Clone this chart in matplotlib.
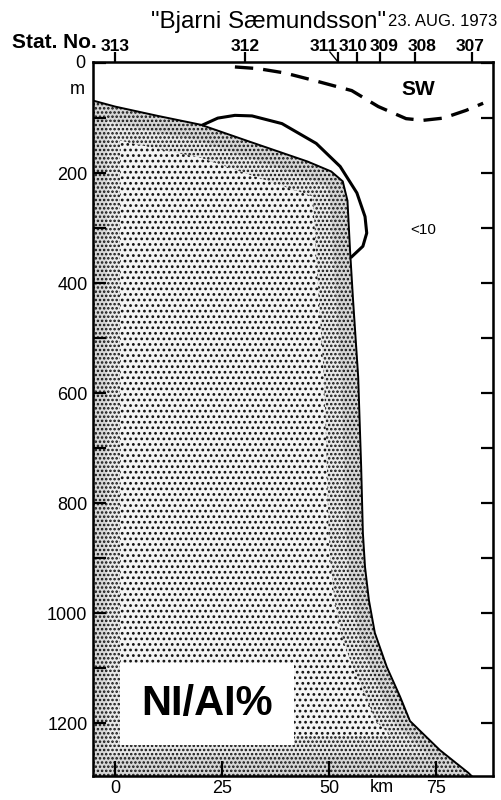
import numpy as np
import matplotlib
matplotlib.use("Agg")
import matplotlib.pyplot as plt
import matplotlib.transforms as mtransforms

plt.rcParams['font.family'] = ['Liberation Sans', 'DejaVu Sans']
plt.rcParams['hatch.linewidth'] = 1.2
plt.rcParams['hatch.color'] = '#111111'

# Станции разреза
stations = ['313', '312', '311', '310', '309', '308', '307']
station_km = [0.0, 30.4, 52.1, 56.5, 61.9, 70.1, 83.4]
label_shift_px = [0, 0, -14, -4, 4, 7, -2]   # сдвиг подписей станций

# Граница заштрихованной области (NI/AI)
boundary_km = [-5.2, 0, 10, 20, 31.5, 45, 50.5, 53.2, 54.3, 54.9, 55.6, 56.8,
               57.5, 57.9, 58.4, 59.3, 60.7, 63.5, 66.6, 68.9, 75.9, 82.5, 83.3]
boundary_depth = [68, 79, 96, 112, 143, 179, 197, 215, 250, 340, 430, 570,
                  734, 854, 916, 976, 1036, 1098, 1152, 1196, 1249, 1290, 1296]

# Изолиния 10
iso_km = [20.6, 24, 28, 32, 39, 47, 52.6, 56.5, 58.4, 58.8, 57.9, 55.3]
iso_depth = [112, 100, 95, 96, 110, 146, 188, 236, 279, 309, 333, 352]

# Граница SW (пунктир)
sw_km = [28, 33.4, 39.7, 46.7, 55.3, 61.5, 68, 72, 76.7, 82, 86]
sw_depth = [7, 10, 18, 32, 50, 79, 101, 104, 100, 86, 73]

fig = plt.figure(figsize=(5.01, 8.00), dpi=100)
ax = fig.add_axes([93/501, 1 - 776/800, 400/501, 714/800])
ax.set_xlim(-5.15, 88.3)
ax.set_ylim(1296, -2)

# Заштрихованная область: светлая середина, плотнее к краям
bk = np.array(boundary_km)
bd = np.array(boundary_depth)
base = ax.fill_betweenx(bd, -6, bk, facecolor='#f4f4f4', edgecolor='none',
                        hatch='...', zorder=1)
clip = base.get_paths()[0]
bands = []
for w_km, w_m, col in [(8, 60, '#e8e8e8'), (4, 30, '#d6d6d6')]:
    kw = dict(facecolor=col, edgecolor='none', hatch='....', zorder=1)
    bands += [
        ax.fill_betweenx(bd, bk - w_km, bk, **kw),
        ax.fill_betweenx(bd, -6, -5.15 + w_km * 0.8, **kw),
        ax.fill_between([-6, 90], 1296 - w_m * 1.2, 1300, **kw),
        ax.fill_between(bk, bd, bd + w_m, **kw),
    ]
for b in bands:
    b.set_clip_path(clip, ax.transData)
ax.plot(boundary_km, boundary_depth, color='black', lw=1.4, zorder=3)

ax.plot(iso_km, iso_depth, color='black', lw=2.2, zorder=3)
ax.plot(sw_km, sw_depth, color='black', lw=2.4, dashes=(5.5, 3), zorder=3)

ax.text(70.8, 48, 'SW', fontsize=15, fontweight='bold', ha='center', va='center')
ax.text(72, 303, '<10', fontsize=11, ha='center', va='center')
ax.text(21.5, 1165, 'NI/AI%', fontsize=30, fontweight='bold', ha='center', va='center',
        bbox=dict(boxstyle='square,pad=0.5', facecolor='white', edgecolor='none'),
        zorder=4)

# Оси
for s in ax.spines.values():
    s.set_linewidth(1.8)
ax.set_yticks(np.arange(200, 1201, 200))
ax.set_yticks(np.arange(0, 1296, 100), minor=True)
ax.set_xticks([0, 25, 50, 75])
ax.tick_params(axis='y', which='both', direction='in', length=9, width=1.6,
               left=True, right=True, labelsize=13, pad=4)
ax.tick_params(axis='x', direction='in', length=11, width=1.6, top=False,
               labelsize=13, pad=3)
ytr = mtransforms.blended_transform_factory(ax.transAxes, ax.transData)
ax.text(-0.02, 0, '0', transform=ytr, ha='right', va='center', fontsize=13)
ax.text(-0.02, 48, 'm', transform=ytr, ha='right', va='center', fontsize=13)
xtr = mtransforms.blended_transform_factory(ax.transData, ax.transAxes)
ax.text(62.4, -0.004, 'km', transform=xtr, ha='center', va='top', fontsize=13)

# Станции сверху
top = ax.twiny()
top.set_xlim(ax.get_xlim())
top.set_xticks(station_km)
top.set_xticklabels([])
top.tick_params(axis='x', direction='out', length=7, width=1.6)
for name, km, dx in zip(stations, station_km, label_shift_px):
    off = mtransforms.offset_copy(xtr, fig=fig, x=dx, y=0, units='dots')
    ax.text(km, 1.011, name, transform=off, ha='center', va='bottom',
            fontsize=12.5, fontweight='bold')
ax.plot([52.1 - 1.9, 52.1], [1.014, 1.0], transform=xtr, color='black', lw=1.0, clip_on=False)
ax.text(12/501, 1 - 43/800, 'Stat. No.', transform=fig.transFigure, ha='left', va='center',
        fontsize=15, fontweight='bold')

fig.text(386/501, 1 - 22/800, '"Bjarni Sæmundsson"', ha='right', va='center', fontsize=17.5)
fig.text(388/501, 1 - 22/800, '23. AUG. 1973', ha='left', va='center', fontsize=12)

fig.savefig('out.png', dpi=100)
